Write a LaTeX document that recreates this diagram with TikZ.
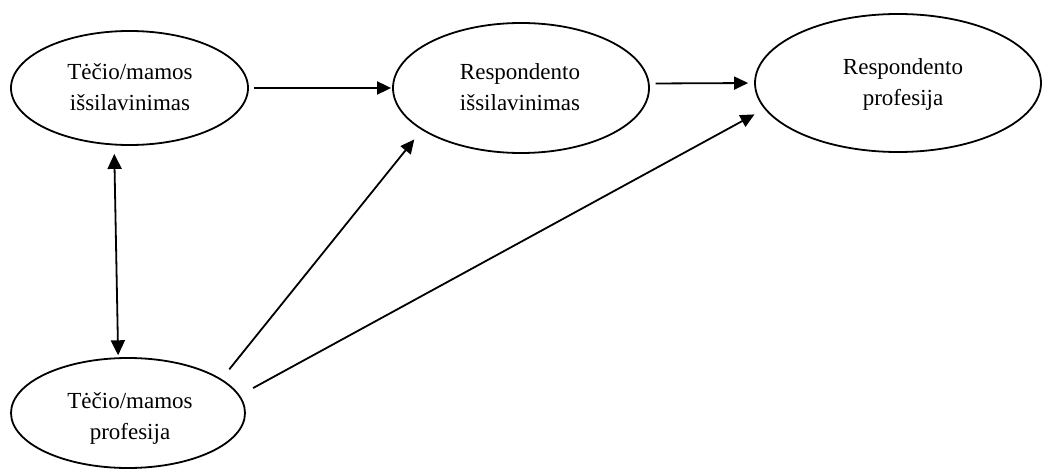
\documentclass[tikz,border=0pt]{standalone}
\usepackage{fontspec}
\setmainfont{Liberation Serif}
\usetikzlibrary{shapes.geometric,arrows.meta}
\begin{document}
\begin{tikzpicture}[x=1pt,y=-1pt,
  oval/.style={draw, ellipse, line width=1.8pt, inner sep=0pt},
  lbl/.style={anchor=base, inner sep=0pt, font=\fontsize{23}{31}\selectfont},
  conn/.style={line width=1.8pt, -{Triangle[length=14pt,width=13pt]}},
  dconn/.style={line width=1.8pt, {Triangle[length=15pt,width=14pt]}-{Triangle[length=15pt,width=14pt]}},
]
\fill[white] (0,0) rectangle (1043,470);
\useasboundingbox (0,0) rectangle (1043,470);
% ellipses
\node[oval, minimum width=237pt, minimum height=114pt] (e1) at (129.5,88) {};
\node[oval, minimum width=256pt, minimum height=130pt] (e2) at (521,88) {};
\node[oval, minimum width=286pt, minimum height=138pt] (e3) at (898,83) {};
\node[oval, minimum width=234pt, minimum height=110pt] (e4) at (128,413) {};
% texts
\node[lbl] (t1) at (130,80) {\begin{tabular}[t]{@{}c@{}}Tėčio/mamos\\išsilavinimas\end{tabular}};
\node[lbl] (t2) at (520,80) {\begin{tabular}[t]{@{}c@{}}Respondento\\išsilavinimas\end{tabular}};
\node[lbl] (t3) at (903,75) {\begin{tabular}[t]{@{}c@{}}Respondento\\profesija\end{tabular}};
\node[lbl] (t4) at (130,408) {\begin{tabular}[t]{@{}c@{}}Tėčio/mamos\\profesija\end{tabular}};
% connectors
\draw[conn, shorten <=5pt, shorten >=1pt] (e1.east) -- (e2.west);
\draw[conn, shorten <=6pt, shorten >=6pt] (e2.2) -- (e3.west);
\draw[dconn, shorten <=8.5pt, shorten >=2pt] (e1.255) -- (e4.100);
\draw[conn, shorten <=12.3pt, shorten >=12pt] (e4.20.7) -- (e2.203.9);
\draw[conn, shorten <=15.1pt, shorten >=11.3pt] (e4.9.13) -- (e3.191.9);
\end{tikzpicture}
\end{document}
